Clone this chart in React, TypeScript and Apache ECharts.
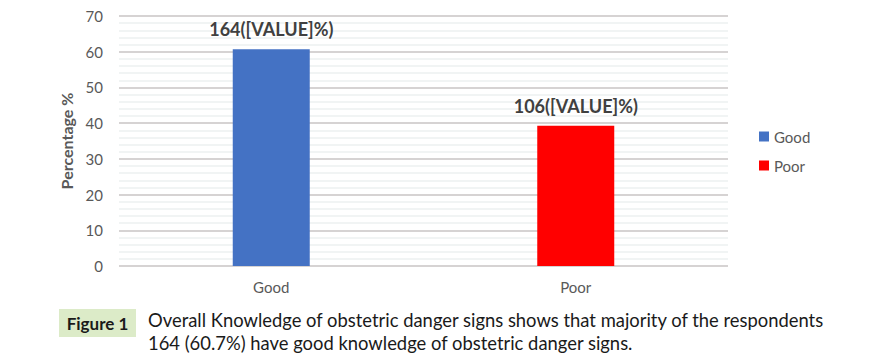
import React, { useEffect, useRef } from "react";
import * as echarts from "echarts";

const categories = ["Good", "Poor"];
const goodValues = [60.7, null];
const poorValues = [null, 39.3];
const counts = [164, 106];
const yTicks = { min: 0, max: 70, interval: 10 };
const captionLines = [
  "Overall Knowledge of obstetric danger signs shows that majority of the respondents",
  "164 (60.7%) have good knowledge of obstetric danger signs.",
];

const FONT = "Lato, 'Open Sans', sans-serif";

export default function App() {
  const ref = useRef<HTMLDivElement>(null);
  useEffect(() => {
    if (!ref.current) return;
    const chart = echarts.init(ref.current, null, { renderer: "svg" });
    const label = {
      show: true,
      position: "top" as const,
      distance: 11,
      color: "#404040",
      fontFamily: FONT,
      fontWeight: "bold" as const,
      fontSize: 18,
      formatter: (p: any) => `${counts[p.dataIndex]}([VALUE]%)`,
    };
    chart.setOption({
      animation: false,
      textStyle: { fontFamily: FONT },
      grid: { left: 119, right: 167, top: 16, bottom: 91 },
      legend: {
        orient: "vertical",
        left: 754,
        top: 124,
        itemWidth: 10,
        itemHeight: 10,
        itemGap: 14,
        icon: "rect",
        textStyle: { fontSize: 15, color: "#595959", fontFamily: FONT },
        data: ["Good", "Poor"],
      },
      xAxis: {
        type: "category",
        data: categories,
        axisLine: { show: false },
        axisTick: { show: false },
        axisLabel: { fontSize: 15, color: "#595959", margin: 13, fontFamily: FONT },
      },
      yAxis: {
        type: "value",
        min: yTicks.min,
        max: yTicks.max,
        interval: yTicks.interval,
        name: "Percentage %",
        nameLocation: "middle",
        nameGap: 38,
        nameRotate: 90,
        nameTextStyle: { fontSize: 16, fontWeight: "bold", color: "#595959", fontFamily: FONT },
        axisLine: { show: false },
        axisTick: { show: false },
        axisLabel: { fontSize: 15, color: "#595959", margin: 16, fontFamily: FONT },
        splitLine: { show: true, lineStyle: { color: "#d6d3d3", width: 2 } },
        minorTick: { show: false, splitNumber: 5 },
        minorSplitLine: { show: true, lineStyle: { color: "#edf1f1", width: 1.5 } },
      },
      series: [
        {
          name: "Good",
          type: "bar",
          data: goodValues,
          barWidth: 77,
          barGap: "-100%",
          itemStyle: { color: "#4472c4" },
          label,
        },
        {
          name: "Poor",
          type: "bar",
          data: poorValues,
          barWidth: 77,
          barGap: "-100%",
          itemStyle: { color: "#ff0000" },
          label,
        },
      ],
      graphic: [
        {
          type: "rect",
          shape: { x: 59, y: 309, width: 77, height: 28 },
          style: { fill: "#dcebc8" },
        },
        {
          type: "text",
          x: 97.5,
          y: 323,
          style: {
            text: "Figure 1",
            fontFamily: FONT,
            fontWeight: "bold",
            fontSize: 17,
            fill: "#1a1a1a",
            align: "center",
            verticalAlign: "middle",
          },
        },
        {
          type: "text",
          x: 148,
          y: 308,
          style: {
            text: captionLines.join("\n"),
            fontFamily: FONT,
            fontSize: 18.4,
            lineHeight: 23,
            fill: "#1a1a1a",
            align: "left",
            verticalAlign: "top",
          },
        },
      ],
    });
    return () => chart.dispose();
  }, []);
  return <div ref={ref} style={{ width: 895, height: 357, position: "absolute", left: 0, top: 0 }} />;
}
